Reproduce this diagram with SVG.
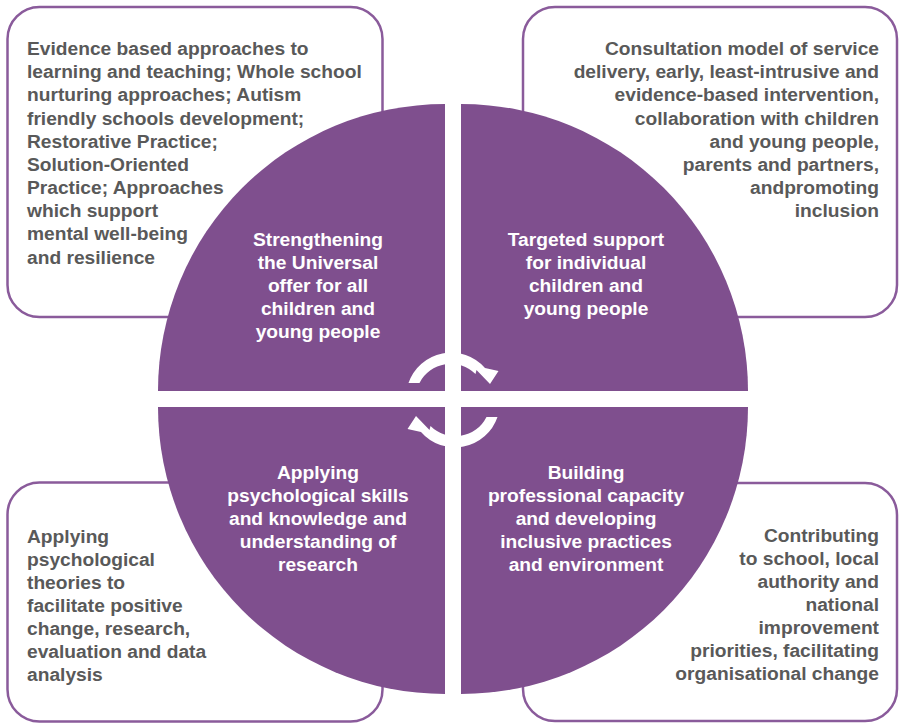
<svg xmlns="http://www.w3.org/2000/svg" width="900" height="724" viewBox="0 0 900 724">
  <style>
    .box { fill: #ffffff; stroke: #8a5b9b; stroke-width: 2.5; }
    .quad { fill: #7f4f8e; }
    .gray { font-family: "Liberation Sans", Arial, sans-serif; font-weight: bold; font-size: 19.2px; fill: #595959; }
    .white { font-family: "Liberation Sans", Arial, sans-serif; font-weight: bold; font-size: 19.2px; fill: #ffffff; text-anchor: middle; }
    .end { text-anchor: end; }
    .arrow { fill: #ffffff; }
  </style>
  <rect width="900" height="724" fill="#ffffff"/>

  <g id="box-top-left">
    <rect class="box" x="7.5" y="7" width="375" height="310" rx="32"/>
    <text class="gray" x="27" y="55">Evidence based approaches to</text>
    <text class="gray" x="27" y="78">learning and teaching; Whole school</text>
    <text class="gray" x="27" y="101">nurturing approaches; Autism</text>
    <text class="gray" x="27" y="124.5">friendly schools development;</text>
    <text class="gray" x="27" y="147.5">Restorative Practice;</text>
    <text class="gray" x="27" y="170.5">Solution-Oriented</text>
    <text class="gray" x="27" y="194">Practice; Approaches</text>
    <text class="gray" x="27" y="217">which support</text>
    <text class="gray" x="27" y="240">mental well-being</text>
    <text class="gray" x="27" y="263.5">and resilience</text>
  </g>

  <g id="box-top-right">
    <rect class="box" x="523" y="7" width="374" height="310" rx="32"/>
    <text class="gray end" x="879" y="55">Consultation model of service</text>
    <text class="gray end" x="879" y="78">delivery, early, least-intrusive and</text>
    <text class="gray end" x="879" y="101">evidence-based intervention,</text>
    <text class="gray end" x="879" y="124.5">collaboration with children</text>
    <text class="gray end" x="879" y="147.5">and young people,</text>
    <text class="gray end" x="879" y="170.5">parents and partners,</text>
    <text class="gray end" x="879" y="194">andpromoting</text>
    <text class="gray end" x="879" y="217">inclusion</text>
  </g>

  <g id="box-bottom-left">
    <rect class="box" x="7.5" y="482.5" width="375" height="239" rx="32"/>
    <text class="gray" x="27" y="542.5">Applying</text>
    <text class="gray" x="27" y="565.5">psychological</text>
    <text class="gray" x="27" y="588.5">theories to</text>
    <text class="gray" x="27" y="611.5">facilitate positive</text>
    <text class="gray" x="27" y="634.5">change, research,</text>
    <text class="gray" x="27" y="657.5">evaluation and data</text>
    <text class="gray" x="27" y="680.5">analysis</text>
  </g>

  <g id="box-bottom-right">
    <rect class="box" x="523" y="483" width="374" height="238" rx="32"/>
    <text class="gray end" x="879" y="541.5">Contributing</text>
    <text class="gray end" x="879" y="564.5">to school, local</text>
    <text class="gray end" x="879" y="587.5">authority and</text>
    <text class="gray end" x="879" y="610.5">national</text>
    <text class="gray end" x="879" y="633.5">improvement</text>
    <text class="gray end" x="879" y="656.5">priorities, facilitating</text>
    <text class="gray end" x="879" y="679.5">organisational change</text>
  </g>

  <g id="quadrant-universal">
    <path class="quad" d="M445,391 L158,391 A287,287 0 0 1 445,104 Z"/>
    <text class="white" x="318" y="246">Strengthening</text>
    <text class="white" x="318" y="269">the Universal</text>
    <text class="white" x="318" y="292">offer for all</text>
    <text class="white" x="318" y="315">children and</text>
    <text class="white" x="318" y="338">young people</text>
  </g>

  <g id="quadrant-targeted">
    <path class="quad" d="M461,391 L461,104 A287,287 0 0 1 748,391 Z"/>
    <text class="white" x="586" y="246">Targeted support</text>
    <text class="white" x="586" y="269">for individual</text>
    <text class="white" x="586" y="292">children and</text>
    <text class="white" x="586" y="315">young people</text>
  </g>

  <g id="quadrant-applying">
    <path class="quad" d="M445,407 L445,694 A287,287 0 0 1 158,407 Z"/>
    <text class="white" x="318" y="479">Applying</text>
    <text class="white" x="318" y="502">psychological skills</text>
    <text class="white" x="318" y="525">and knowledge and</text>
    <text class="white" x="318" y="548">understanding of</text>
    <text class="white" x="318" y="571">research</text>
  </g>

  <g id="quadrant-building">
    <path class="quad" d="M461,407 L748,407 A287,287 0 0 1 461,694 Z"/>
    <text class="white" x="586" y="479">Building</text>
    <text class="white" x="586" y="502">professional capacity</text>
    <text class="white" x="586" y="525">and developing</text>
    <text class="white" x="586" y="548">inclusive practices</text>
    <text class="white" x="586" y="571">and environment</text>
  </g>

  <g id="connectors">
    <defs>
      <path id="cyc" d="M408.5,383 A45,45 0 0 1 485,368 L498.5,371 L490,384 L476.5,370 L475.5,374 A35,35 0 0 0 419.5,383 Z"/>
    </defs>
    <use href="#cyc" class="arrow"/>
    <use href="#cyc" class="arrow" transform="rotate(180 453 400)"/>
  </g>
</svg>
